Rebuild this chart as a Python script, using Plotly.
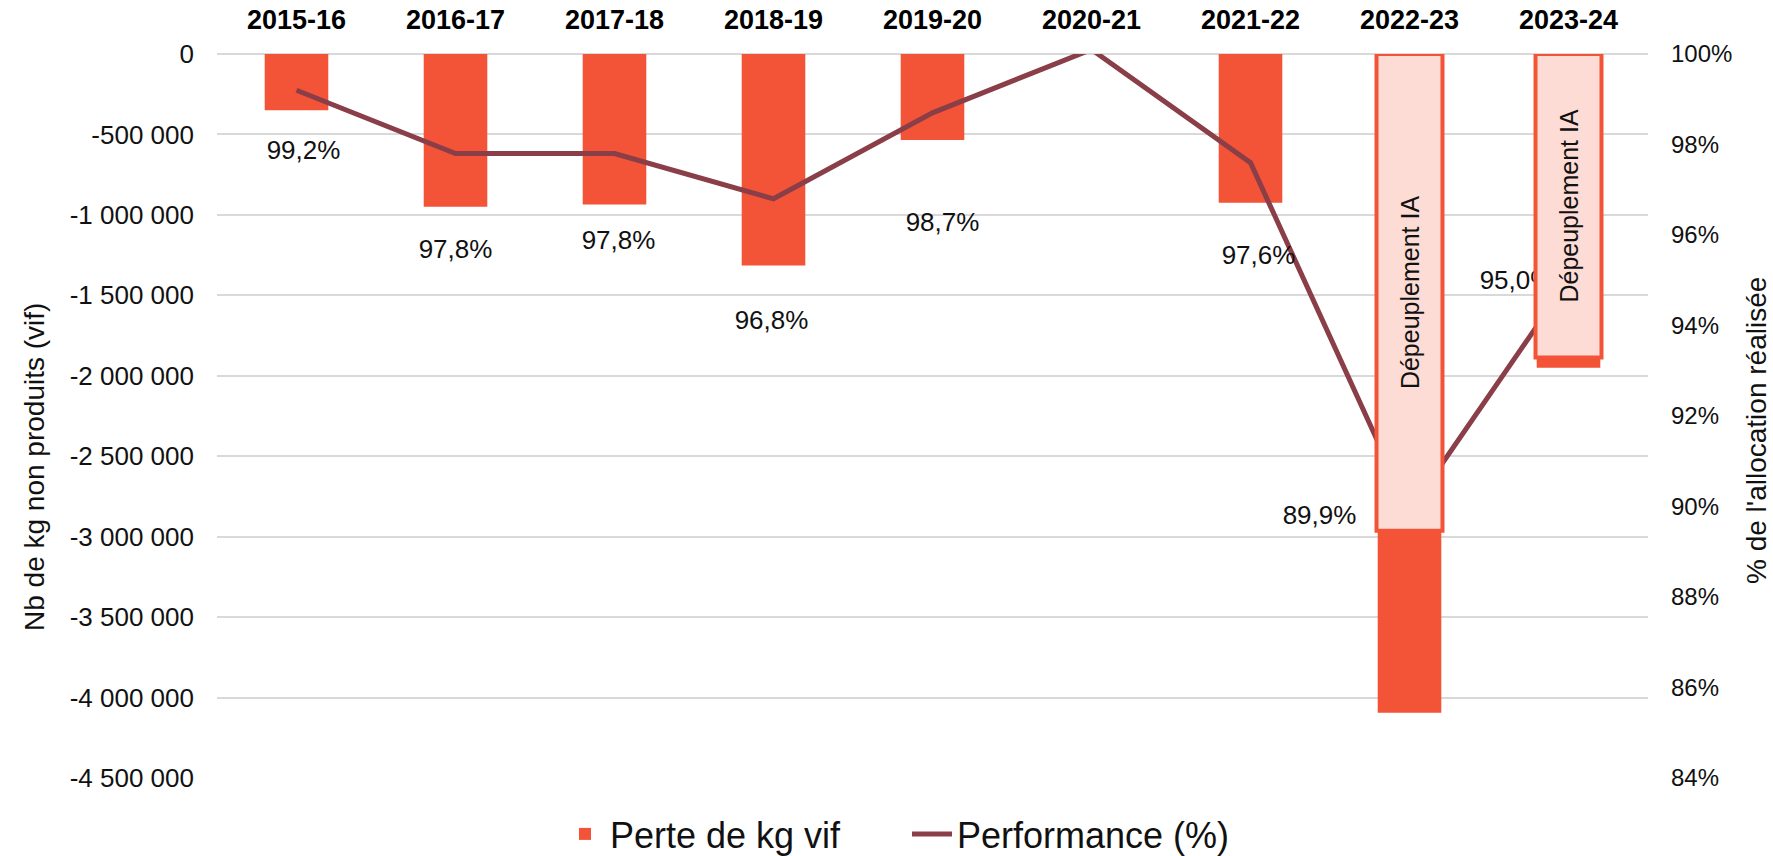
import plotly.graph_objects as go

# ---------------- data ----------------
categories = ["2015-16", "2016-17", "2017-18", "2018-19", "2019-20",
              "2020-21", "2021-22", "2022-23", "2023-24"]
kg_lost = [-350000, -950000, -935000, -1315000, -535000, 0, -925000, -4095000, -1950000]
performance = [99.2, 97.8, 97.8, 96.8, 98.7, 100.1, 97.6, 89.9, 95.0]
show_label = [True, True, True, True, True, False, True, True, True]

overlay_categories = ["2022-23", "2023-24"]
overlay_bottom = [-2963000, -1887000]
overlay_text = "Dépeuplement IA"

left_ticks = [0, -500000, -1000000, -1500000, -2000000, -2500000,
              -3000000, -3500000, -4000000, -4500000]
right_ticks = [84, 86, 88, 90, 92, 94, 96, 98, 100]

# label offsets (pixels: right / down from the point)
label_dx_px = [7, 0, 4, -2, 10, 0, 8, -90, -52]
label_dy_px = [62, 98, 89, 124, 112, 0, 95, 6, 2]

# ---------------- styles ----------------
BAR_COLOR = "#F35336"
BOX_FILL = "#FCDCD5"
LINE_COLOR = "#893E48"
GRID = "#D9D9D9"
FONT = "Liberation Sans"

W, H = 1773, 856
M_L, M_R, M_T, M_B = 217, 125, 54, 78
plot_w = W - M_L - M_R
plot_h = H - M_T - M_B
px_per_cat = plot_w / len(categories)
px_per_pct = plot_h / (right_ticks[-1] - right_ticks[0])

xpos = list(range(len(categories)))
bar_w = 0.40
box_w = 0.415

fig = go.Figure()

fig.add_trace(go.Bar(
    x=xpos, y=kg_lost, name="Perte de kg vif",
    marker=dict(color=BAR_COLOR, line=dict(width=0)),
    width=bar_w, offset=-bar_w / 2, yaxis="y", hoverinfo="skip",
))

fig.add_trace(go.Scatter(
    x=xpos, y=performance, name="Performance (%)", mode="lines",
    line=dict(color=LINE_COLOR, width=5), yaxis="y2", hoverinfo="skip",
))

lab_x, lab_y, lab_t = [], [], []
for i, v in enumerate(performance):
    if not show_label[i]:
        continue
    lab_x.append(xpos[i] + label_dx_px[i] / px_per_cat)
    lab_y.append(v - label_dy_px[i] / px_per_pct)
    lab_t.append(f"{v:.1f}".replace(".", ",") + "%")

fig.add_trace(go.Scatter(
    x=lab_x, y=lab_y, text=lab_t, mode="text", textposition="middle center",
    textfont=dict(family=FONT, size=26, color="#111111"),
    yaxis="y2", showlegend=False, hoverinfo="skip", cliponaxis=False,
))

box_x = [categories.index(c) for c in overlay_categories]
fig.add_trace(go.Bar(
    x=box_x, y=overlay_bottom, text=[overlay_text] * len(box_x),
    textposition="inside", insidetextanchor="middle", textangle=-90,
    constraintext="none",
    insidetextfont=dict(family=FONT, size=25, color="#111111"),
    marker=dict(color=BOX_FILL, line=dict(color=BAR_COLOR, width=4)),
    width=box_w, offset=-box_w / 2, yaxis="y3", showlegend=False, hoverinfo="skip",
))

fig.update_layout(
    width=W, height=H,
    margin=dict(l=M_L, r=M_R, t=M_T, b=M_B, autoexpand=False),
    paper_bgcolor="white", plot_bgcolor="white",
    barmode="overlay",
    font=dict(family=FONT, color="#111111"),
    xaxis=dict(
        range=[-0.5, len(categories) - 0.5], side="top",
        tickmode="array", tickvals=xpos,
        ticktext=[f"<b>{c}</b>" for c in categories],
        tickfont=dict(family=FONT, size=27, color="#000000"),
        showgrid=False, zeroline=False, showline=False, ticks="",
        ticklabelstandoff=19,
    ),
    yaxis=dict(
        range=[left_ticks[-1], left_ticks[0]],
        tickmode="array", tickvals=left_ticks,
        ticktext=[f"{v:,}".replace(",", " ") for v in left_ticks],
        tickfont=dict(family=FONT, size=26, color="#111111"),
        showgrid=True, gridcolor=GRID, gridwidth=2,
        zeroline=True, zerolinecolor=GRID, zerolinewidth=2,
        showline=False, ticks="", ticklabelstandoff=22,
    ),
    yaxis2=dict(
        range=[right_ticks[0], right_ticks[-1]], overlaying="y", side="right",
        tickmode="array", tickvals=right_ticks,
        ticktext=[f"{v}%" for v in right_ticks],
        tickfont=dict(family=FONT, size=24, color="#111111"),
        showgrid=False, zeroline=False, showline=False, ticks="",
        ticklabelstandoff=22,
    ),
    yaxis3=dict(
        range=[left_ticks[-1], left_ticks[0]], overlaying="y", visible=False,
        showgrid=False, zeroline=False,
    ),
    legend=dict(
        orientation="h", x=(560 - M_L) / plot_w, xanchor="left",
        y=-(834 - (H - M_B)) / plot_h, yanchor="middle",
        font=dict(family=FONT, size=36, color="#111111"),
        itemwidth=40, entrywidth=292, entrywidthmode="pixels",
        bgcolor="rgba(0,0,0,0)",
    ),
    annotations=[
        dict(text="Nb de kg non produits (vif)", xref="paper", yref="paper",
             x=(34 - M_L) / plot_w, y=(H - M_B - 467) / plot_h,
             xanchor="center", yanchor="middle", textangle=-90, showarrow=False,
             font=dict(family=FONT, size=28, color="#111111")),
        dict(text="% de l'allocation réalisée", xref="paper", yref="paper",
             x=(1756 - M_L) / plot_w, y=(H - M_B - 431) / plot_h,
             xanchor="center", yanchor="middle", textangle=-90, showarrow=False,
             font=dict(family=FONT, size=28, color="#111111")),
    ],
)

fig.write_html(
    "out.html",
    config={"displayModeBar": False},
    post_script="document.body.style.margin='0';"
                "document.documentElement.style.overflow='hidden';",
)
